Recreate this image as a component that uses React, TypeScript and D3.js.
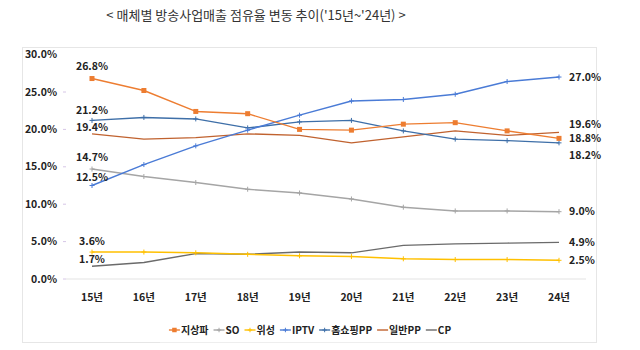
import * as d3 from "d3";
import { useRef, useEffect } from "react";

// chart data (share of broadcasting revenue, %)
const years = ["15년", "16년", "17년", "18년", "19년", "20년", "21년", "22년", "23년", "24년"];
const terrestrial = [26.8, 25.2, 22.4, 22.1, 20.0, 19.9, 20.7, 20.9, 19.8, 18.8];
const so = [14.7, 13.7, 12.9, 12.0, 11.5, 10.7, 9.6, 9.1, 9.1, 9.0];
const satellite = [3.6, 3.6, 3.5, 3.3, 3.1, 3.0, 2.7, 2.6, 2.6, 2.5];
const iptv = [12.5, 15.3, 17.8, 19.9, 21.9, 23.8, 24.0, 24.7, 26.4, 27.0];
const homeShopping = [21.2, 21.6, 21.4, 20.2, 21.0, 21.2, 19.8, 18.7, 18.5, 18.2];
const generalPP = [19.4, 18.7, 18.9, 19.4, 19.2, 18.2, 19.0, 19.8, 19.2, 19.6];
const cp = [1.7, 2.2, 3.4, 3.3, 3.6, 3.5, 4.5, 4.7, 4.8, 4.9];
const yTicks = [0, 5, 10, 15, 20, 25, 30];

const series = [
  { name: "지상파", values: terrestrial, color: "#ED7D31", marker: "square", first: [0, -12], last: [10, 0] },
  { name: "SO", values: so, color: "#A5A5A5", marker: "cross", first: [0, -12], last: [10, 0] },
  { name: "위성", values: satellite, color: "#FFC000", marker: "cross", first: [0, -11], last: [10, 0] },
  { name: "IPTV", values: iptv, color: "#4A7BD6", marker: "cross", first: [0, -8], last: [10, 0] },
  { name: "홈쇼핑PP", values: homeShopping, color: "#3E6FA8", marker: "cross", first: [0, -10], last: [10, 12] },
  { name: "일반PP", values: generalPP, color: "#C0622F", marker: "none", first: [0, -7], last: [10, -8] },
  { name: "CP", values: cp, color: "#6B6B6B", marker: "none", first: [0, -7], last: [10, 0] },
];

export default function App() {
  const svgRef = useRef<SVGSVGElement>(null);

  useEffect(() => {
    const svg = d3.select(svgRef.current);
    svg.selectAll("*").remove();

    const font = "'Noto Sans CJK KR', 'Noto Sans', sans-serif";

    // frame
    svg.append("rect")
      .attr("x", 22.5).attr("y", 47.5).attr("width", 574).attr("height", 295)
      .attr("fill", "none").attr("stroke", "#e6e6e6");

    // title
    svg.append("text")
      .attr("x", 256).attr("y", 20)
      .attr("text-anchor", "middle")
      .style("font-family", font).style("font-size", "13px").attr("fill", "#333")
      .text("< 매체별 방송사업매출 점유율 변동 추이('15년~'24년) >");

    const x = d3.scalePoint().domain(years).range([92, 559]);
    const y = d3.scaleLinear().domain([0, 30]).range([279, 54.6]);

    // baseline
    svg.append("line")
      .attr("x1", 66).attr("x2", 586).attr("y1", y(0)).attr("y2", y(0))
      .attr("stroke", "#e3e3e3").attr("stroke-width", 1.2);

    // y axis labels and tiny ticks
    const yg = svg.append("g");
    yg.selectAll("text").data(yTicks).enter().append("text")
      .attr("x", 57).attr("y", d => y(d)).attr("dy", "0.35em")
      .attr("text-anchor", "end")
      .style("font-family", font).style("font-size", "10.5px").style("font-weight", "bold")
      .attr("fill", "#222")
      .text(d => d.toFixed(1) + "%");
    yg.selectAll("line").data(yTicks.slice(0, 6)).enter().append("line")
      .attr("x1", 63).attr("x2", 66).attr("y1", d => y(d)).attr("y2", d => y(d))
      .attr("stroke", "#d6c6e6");

    // x axis labels
    svg.append("g").selectAll("text").data(years).enter().append("text")
      .attr("x", d => x(d)!).attr("y", 297).attr("dy", "0.35em")
      .attr("text-anchor", "middle")
      .style("font-family", font).style("font-size", "10.5px").style("font-weight", "bold")
      .attr("fill", "#222")
      .text(d => d);

    const line = d3.line<number>()
      .x((_, i) => x(years[i])!)
      .y(d => y(d));

    const drawMarker = (g: any, type: string, cx: number, cy: number, color: string, s = 1) => {
      if (type === "square") {
        g.append("rect").attr("x", cx - 2.5 * s).attr("y", cy - 2.5 * s)
          .attr("width", 5 * s).attr("height", 5 * s).attr("fill", color);
      } else if (type === "cross") {
        g.append("path")
          .attr("d", `M${cx - 2.5 * s},${cy}H${cx + 2.5 * s}M${cx},${cy - 2.5 * s}V${cy + 2.5 * s}`)
          .attr("stroke", color).attr("stroke-width", 1);
      }
    };

    // draw lines (back to front)
    const order = ["CP", "위성", "SO", "일반PP", "홈쇼핑PP", "IPTV", "지상파"];
    order.forEach(name => {
      const s = series.find(d => d.name === name)!;
      const g = svg.append("g");
      g.append("path")
        .attr("d", line(s.values))
        .attr("fill", "none").attr("stroke", s.color)
        .attr("stroke-width", 1.4).attr("stroke-linejoin", "round");
      s.values.forEach((v, i) => drawMarker(g, s.marker, x(years[i])!, y(v), s.color));
    });

    // data labels at first and last years
    const lab = svg.append("g")
      .style("font-family", font).style("font-size", "10.5px").style("font-weight", "bold")
      .attr("fill", "#222");
    series.forEach(s => {
      const v0 = s.values[0];
      lab.append("text")
        .attr("x", x(years[0])! + s.first[0]).attr("y", y(v0) + s.first[1])
        .attr("dy", "0.35em").attr("text-anchor", "middle")
        .text(v0.toFixed(1) + "%");
      const vn = s.values[s.values.length - 1];
      lab.append("text")
        .attr("x", x(years[years.length - 1])! + s.last[0]).attr("y", y(vn) + s.last[1])
        .attr("dy", "0.35em").attr("text-anchor", "start")
        .text(vn.toFixed(1) + "%");
    });

    // legend
    const legend = svg.append("g");
    let cursor = 0;
    series.forEach(s => {
      const g = legend.append("g").attr("transform", `translate(${cursor},0)`);
      g.append("line").attr("x1", 0).attr("x2", 11).attr("y1", 0).attr("y2", 0)
        .attr("stroke", s.color).attr("stroke-width", 1.4);
      drawMarker(g, s.marker, 5.5, 0, s.color, 0.9);
      const t = g.append("text").attr("x", 12).attr("dy", "0.35em")
        .style("font-family", font).style("font-size", "10px").style("font-weight", "bold")
        .attr("fill", "#222").text(s.name);
      const w = (t.node() as SVGTextElement).getComputedTextLength();
      cursor += 12 + w + 5;
    });
    const total = cursor - 5;
    legend.attr("transform", `translate(${310 - total / 2},330)`);

    // legend separator
    svg.append("line").attr("x1", 160).attr("x2", 470).attr("y1", 342.5).attr("y2", 342.5)
      .attr("stroke", "#eeeeee");
  }, []);

  return (
    <svg
      ref={svgRef}
      width={640}
      height={350}
      style={{ position: "absolute", left: 0, top: 0, background: "#fff" }}
    />
  );
}
